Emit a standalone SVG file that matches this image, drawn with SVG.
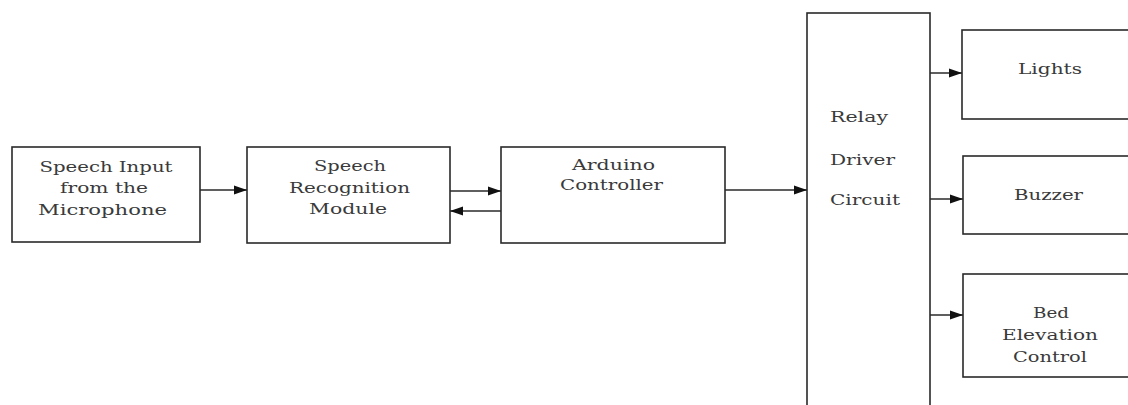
<svg xmlns="http://www.w3.org/2000/svg" width="1128" height="405" viewBox="0 0 1128 405">
<style>
.box{fill:#fff;stroke:#2a2a2a;stroke-width:1.6}
.t{font-family:"DejaVu Serif","Liberation Serif",serif;font-size:14px;fill:#3a3a3a}
.c{text-anchor:middle}
.ln{stroke:#2a2a2a;stroke-width:1.5;fill:none;marker-end:url(#ah)}
</style>
<defs>
<marker id="ah" markerUnits="userSpaceOnUse" markerWidth="14" markerHeight="10" refX="13" refY="5" orient="auto">
<path d="M0,0.5 L13,5 L0,9.5 Z" fill="#111"/>
</marker>
</defs>
<rect width="1128" height="405" fill="#fff"/>
<g id="connectors">
<line class="ln" x1="200" y1="190" x2="247" y2="190"/>
<line class="ln" x1="450" y1="191" x2="501" y2="191"/>
<line class="ln" x1="501" y1="211" x2="450" y2="211"/>
<line class="ln" x1="725" y1="190" x2="807" y2="190"/>
<line class="ln" x1="930" y1="73" x2="962" y2="73"/>
<line class="ln" x1="930" y1="199" x2="963" y2="199"/>
<line class="ln" x1="930" y1="315" x2="963" y2="315"/>
</g>
<g id="speech-input">
<rect class="box" x="12" y="147" width="188" height="95"/>
<text class="t c" x="106" y="172" textLength="133" lengthAdjust="spacingAndGlyphs">Speech Input</text>
<text class="t c" x="104" y="193" textLength="88" lengthAdjust="spacingAndGlyphs">from the</text>
<text class="t c" x="102.5" y="215" textLength="129" lengthAdjust="spacingAndGlyphs">Microphone</text>
</g>
<g id="speech-recognition">
<rect class="box" x="247" y="147" width="203" height="96"/>
<text class="t c" x="350" y="171" textLength="72" lengthAdjust="spacingAndGlyphs">Speech</text>
<text class="t c" x="349.5" y="193" textLength="121" lengthAdjust="spacingAndGlyphs">Recognition</text>
<text class="t c" x="348" y="214" textLength="78" lengthAdjust="spacingAndGlyphs">Module</text>
</g>
<g id="arduino">
<rect class="box" x="501" y="147" width="224" height="96"/>
<text class="t c" x="613.5" y="170" textLength="83" lengthAdjust="spacingAndGlyphs">Arduino</text>
<text class="t c" x="611.5" y="190" textLength="103" lengthAdjust="spacingAndGlyphs">Controller</text>
</g>
<g id="relay">
<rect class="box" x="807" y="13" width="123" height="400"/>
<text class="t" x="830" y="122" textLength="58" lengthAdjust="spacingAndGlyphs">Relay</text>
<text class="t" x="830" y="165" textLength="65" lengthAdjust="spacingAndGlyphs">Driver</text>
<text class="t" x="830" y="205" textLength="70" lengthAdjust="spacingAndGlyphs">Circuit</text>
</g>
<g id="lights">
<rect class="box" x="962" y="30" width="180" height="89"/>
<text class="t c" x="1050" y="74" textLength="64" lengthAdjust="spacingAndGlyphs">Lights</text>
</g>
<g id="buzzer">
<rect class="box" x="963" y="156" width="180" height="78"/>
<text class="t c" x="1048.5" y="200" textLength="69" lengthAdjust="spacingAndGlyphs">Buzzer</text>
</g>
<g id="bed">
<rect class="box" x="963" y="274" width="180" height="103"/>
<text class="t c" x="1051" y="318" textLength="36" lengthAdjust="spacingAndGlyphs">Bed</text>
<text class="t c" x="1050" y="340" textLength="96" lengthAdjust="spacingAndGlyphs">Elevation</text>
<text class="t c" x="1050" y="362" textLength="74" lengthAdjust="spacingAndGlyphs">Control</text>
</g>
</svg>
